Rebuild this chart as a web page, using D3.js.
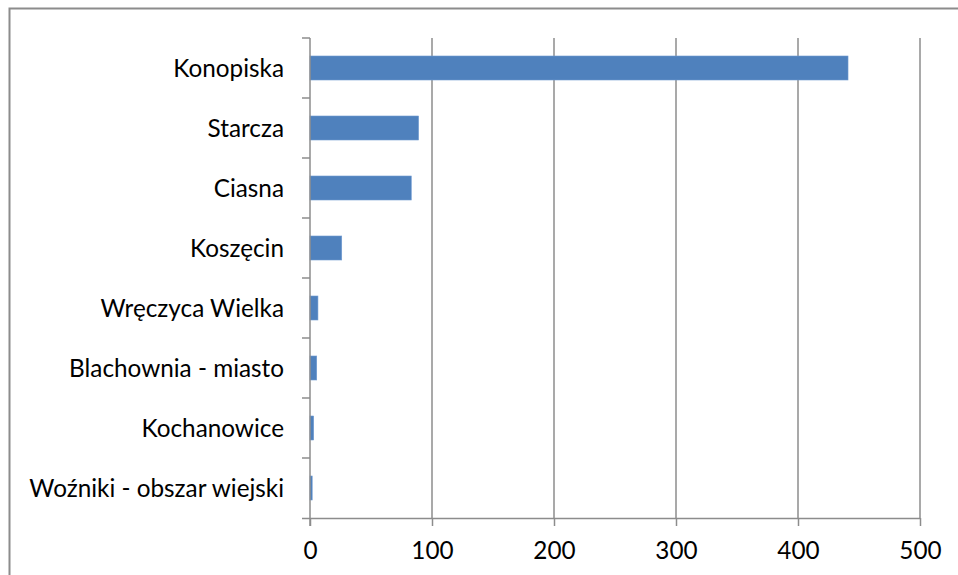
<!DOCTYPE html>
<html><head><meta charset="utf-8">
<script src="https://cdn.jsdelivr.net/npm/d3@7"></script>
<style>body{margin:0;background:#fff}svg{display:block}text{font-family:Lato,"Open Sans",sans-serif;fill:#000}</style>
</head><body><svg id="c" width="958" height="575"></svg>
<script>
const categories = ["Konopiska","Starcza","Ciasna","Koszęcin","Wręczyca Wielka","Blachownia - miasto","Kochanowice","Woźniki - obszar wiejski"];
const values = [441, 89, 83, 26, 6.5, 5.5, 3, 1.8];
const xTicks = [0,100,200,300,400,500];

const svg = d3.select("#c");
const L = 310, R = 920, T = 38, B = 518;
const FS = 24.3;
const x = d3.scaleLinear().domain([0,500]).range([L,R]);
const y = d3.scaleBand().domain(categories).range([T,B]).paddingInner(0.6).paddingOuter(0.3);

// outer border
svg.append("rect").attr("x",9.5).attr("y",8.5).attr("width",1000).attr("height",600)
  .attr("fill","none").attr("stroke","#8c8c8c").attr("stroke-width",2);

// gridlines
svg.append("g").selectAll("line").data(xTicks.slice(1)).join("line")
  .attr("x1",d=>x(d)).attr("x2",d=>x(d)).attr("y1",T).attr("y2",B)
  .attr("stroke","#8c8c8c").attr("stroke-width",1.5);

// bars
svg.append("g").selectAll("rect").data(categories).join("rect")
  .attr("x",x(0)).attr("y",d=>y(d)).attr("height",y.bandwidth())
  .attr("width",(d,i)=>x(values[i])-x(0))
  .attr("fill","#4f81bd").attr("stroke","#6f9ad0").attr("stroke-width",0.6);

// x axis
const xa = svg.append("g").attr("transform",`translate(0,${B})`)
  .call(d3.axisBottom(x).tickValues(xTicks).tickSize(8).tickPadding(16).tickFormat(d3.format("d")));
xa.select(".domain").attr("stroke","#8c8c8c").attr("stroke-width",1.5).attr("d",`M${L-8},0.5H${R}`);
xa.selectAll(".tick line").attr("stroke","#8c8c8c").attr("stroke-width",1.5);
xa.selectAll("text").attr("font-size",FS).attr("font-family","Lato, sans-serif");

// y axis
const yBounds = d3.range(categories.length+1).map(i=>T+(B-T)*i/categories.length);
const ya = svg.append("g");
ya.append("line").attr("x1",L).attr("x2",L).attr("y1",T).attr("y2",B+8)
  .attr("stroke","#8c8c8c").attr("stroke-width",1.5);
ya.selectAll("line.t").data(yBounds.slice(0,-1)).join("line").attr("class","t")
  .attr("x1",L-8).attr("x2",L).attr("y1",d=>d).attr("y2",d=>d)
  .attr("stroke","#8c8c8c").attr("stroke-width",1.5);
ya.selectAll("text").data(categories).join("text")
  .attr("x",284).attr("y",d=>y(d)+y.bandwidth()/2).attr("dy","0.35em")
  .attr("text-anchor","end").attr("font-size",FS).text(d=>d);
</script></body></html>
